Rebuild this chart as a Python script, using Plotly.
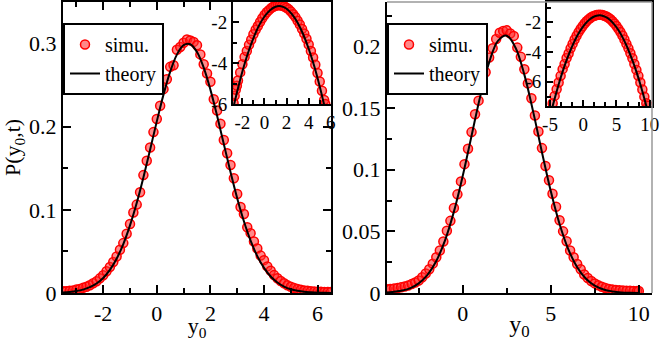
import plotly.graph_objects as go

# ---- left panel: main distribution ----
left_theory_x = [-3.5, -3.25, -3.0, -2.75, -2.5, -2.25, -2.0, -1.75, -1.5, -1.25, -1.0, -0.75,
                 -0.5, -0.25, 0.0, 0.25, 0.5, 0.75, 1.0, 1.25, 1.5, 1.75, 2.0, 2.25, 2.5, 2.75,
                 3.0, 3.25, 3.5, 3.75, 4.0, 4.25, 4.5, 4.75, 5.0, 5.25, 5.5, 5.75, 6.0, 6.25, 6.5]
left_theory_y = [0.0007, 0.0013, 0.0023, 0.0041, 0.0070, 0.0114, 0.0181, 0.0278, 0.0412, 0.0589,
                 0.0813, 0.1082, 0.1390, 0.1724, 0.2064, 0.2386, 0.2662, 0.2867, 0.2981, 0.2992,
                 0.2898, 0.2710, 0.2446, 0.2131, 0.1793, 0.1455, 0.1140, 0.0863, 0.0630, 0.0444,
                 0.0302, 0.0198, 0.0126, 0.0077, 0.0045, 0.0026, 0.0014, 0.0008, 0.0004, 0.0002, 0.0001]

left_simu_x = [-3.5, -3.375, -3.25, -3.125, -3.0, -2.875, -2.75, -2.625, -2.5, -2.375, -2.25, -2.125,
               -2.0, -1.875, -1.75, -1.625, -1.5, -1.375, -1.25, -1.125, -1.0, -0.875, -0.75, -0.625,
               -0.5, -0.375, -0.25, -0.125, 0.0, 0.125, 0.25, 0.375, 0.5, 0.625, 0.75, 0.875,
               1.0, 1.125, 1.25, 1.375, 1.5, 1.625, 1.75, 1.875, 2.0, 2.125, 2.25, 2.375,
               2.5, 2.625, 2.75, 2.875, 3.0, 3.125, 3.25, 3.375, 3.5, 3.625, 3.75, 3.875,
               4.0, 4.125, 4.25, 4.375, 4.5, 4.625, 4.75, 4.875, 5.0, 5.125, 5.25, 5.375,
               5.5, 5.625, 5.75, 5.875, 6.0, 6.125, 6.25, 6.375, 6.5]
left_simu_y = [0.0020, 0.0022, 0.0028, 0.0030, 0.0041, 0.0048, 0.0062, 0.0075, 0.0093, 0.0118, 0.0140, 0.0176,
               0.0213, 0.0262, 0.0312, 0.0372, 0.0440, 0.0521, 0.0600, 0.0712, 0.0829, 0.0968, 0.1063, 0.1212,
               0.1418, 0.1590, 0.1750, 0.1935, 0.2092, 0.2253, 0.2452, 0.2570, 0.2720, 0.2740, 0.2925, 0.2958,
               0.3010, 0.3050, 0.3038, 0.3020, 0.2980, 0.2870, 0.2752, 0.2640, 0.2540, 0.2330, 0.2195, 0.2035,
               0.1840, 0.1680, 0.1540, 0.1380, 0.1190, 0.1035, 0.0950, 0.0790, 0.0720, 0.0620, 0.0535, 0.0450,
               0.0395, 0.0320, 0.0268, 0.0215, 0.0178, 0.0145, 0.0118, 0.0092, 0.0075, 0.0060, 0.0047, 0.0040,
               0.0031, 0.0027, 0.0022, 0.0019, 0.0016, 0.0014, 0.0013, 0.0012, 0.0012]

# ---- left panel: inset (log) ----
left_in_theory_x = [-2.75, -2.5, -2.0, -1.5, -1.0, -0.5, 0.0, 0.5, 1.0, 1.5, 2.0, 2.5, 3.0, 3.5,
                    4.0, 4.5, 5.0, 5.4]
left_in_theory_y = [-6.02, -5.45, -4.41, -3.51, -2.77, -2.16, -1.71, -1.40, -1.23, -1.21, -1.33, -1.61,
                    -2.02, -2.58, -3.29, -4.14, -5.14, -6.04]
left_in_simu_x = [-2.8, -2.7, -2.6, -2.5, -2.4, -2.2, -2.0, -1.8, -1.6, -1.4, -1.2, -1.0, -0.8, -0.6,
                  -0.4, -0.2, 0.0, 0.2, 0.4, 0.6, 0.8, 1.0, 1.2, 1.4, 1.6, 1.8, 2.0, 2.2, 2.4, 2.6,
                  2.8, 3.0, 3.2, 3.4, 3.6, 3.8, 4.0, 4.2, 4.4, 4.6, 4.8, 5.0, 5.2, 5.4, 5.5]
left_in_simu_y = [-5.95, -5.60, -5.30, -5.10, -4.85, -4.45, -4.05, -3.70, -3.40, -3.10, -2.85, -2.58,
                  -2.36, -2.18, -1.98, -1.80, -1.64, -1.50, -1.40, -1.30, -1.23, -1.18, -1.16, -1.16,
                  -1.18, -1.22, -1.28, -1.36, -1.47, -1.60, -1.74, -1.92, -2.10, -2.32, -2.55, -2.80,
                  -3.08, -3.40, -3.72, -4.08, -4.48, -4.90, -5.35, -5.80, -6.00]

# ---- right panel: main distribution ----
right_theory_x = [-4.5, -4.0, -3.5, -3.0, -2.5, -2.0, -1.5, -1.0, -0.5, 0.0, 0.5, 1.0, 1.5, 2.0,
                  2.5, 3.0, 3.5, 4.0, 4.5, 5.0, 5.5, 6.0, 6.5, 7.0, 7.5, 8.0, 8.5, 9.0, 9.5, 10.0]
right_theory_y = [0.0003, 0.0008, 0.0018, 0.0038, 0.0078, 0.0147, 0.0260, 0.0429, 0.0660, 0.0949,
                  0.1274, 0.1598, 0.1870, 0.2045, 0.2087, 0.1989, 0.1771, 0.1471, 0.1142, 0.0827,
                  0.0560, 0.0354, 0.0209, 0.0115, 0.0059, 0.0028, 0.0013, 0.0005, 0.0002, 0.0001]

right_simu_x = [-4.3, -4.1, -3.9, -3.7, -3.5, -3.3, -3.1, -2.9, -2.7, -2.5, -2.3, -2.1, -1.9, -1.7,
                -1.5, -1.3, -1.1, -0.9, -0.7, -0.5, -0.3, -0.1, 0.1, 0.3, 0.5, 0.7, 0.9, 1.1,
                1.3, 1.5, 1.7, 1.9, 2.1, 2.3, 2.5, 2.7, 2.9, 3.1, 3.3, 3.5, 3.7, 3.9, 4.1, 4.3,
                4.5, 4.7, 4.9, 5.1, 5.3, 5.5, 5.7, 5.9, 6.1, 6.3, 6.5, 6.7, 6.9, 7.1, 7.3, 7.5,
                7.7, 7.9, 8.1, 8.3, 8.5, 8.7, 8.9, 9.1, 9.3, 9.5, 9.7, 9.9, 10.0]
right_simu_y = [0.0030, 0.0032, 0.0036, 0.0040, 0.0046, 0.0052, 0.0060, 0.0072, 0.0085, 0.0102, 0.0128, 0.0158,
                0.0192, 0.0238, 0.0290, 0.0345, 0.0418, 0.0505, 0.0585, 0.0690, 0.0800, 0.0905, 0.1045, 0.1170,
                0.1305, 0.1450, 0.1560, 0.1700, 0.1790, 0.1910, 0.1985, 0.2060, 0.2110, 0.2125, 0.2130, 0.2105,
                0.2085, 0.1990, 0.1915, 0.1815, 0.1700, 0.1580, 0.1440, 0.1310, 0.1175, 0.1030, 0.0915, 0.0805,
                0.0700, 0.0590, 0.0500, 0.0420, 0.0345, 0.0290, 0.0235, 0.0192, 0.0150, 0.0122, 0.0098, 0.0078,
                0.0062, 0.0050, 0.0040, 0.0033, 0.0028, 0.0025, 0.0022, 0.0020, 0.0018, 0.0018, 0.0017, 0.0016,
                0.0016]

# ---- right panel: inset (log) ----
right_in_theory_x = [-4.6, -4.5, -4.0, -3.5, -3.0, -2.5, -2.0, -1.5, -1.0, -0.5, 0.0, 0.5, 1.0, 1.5,
                     2.0, 2.5, 3.0, 3.5, 4.0, 4.5, 5.0, 5.5, 6.0, 6.5, 7.0, 7.5, 8.0, 8.5, 9.0, 9.5]
right_in_theory_y = [-7.64, -7.47, -6.65, -5.88, -5.18, -4.54, -3.97, -3.45, -2.99, -2.60, -2.27, -2.00,
                     -1.79, -1.64, -1.555, -1.53, -1.57, -1.67, -1.83, -2.05, -2.33, -2.67, -3.08, -3.55,
                     -4.08, -4.67, -5.32, -6.03, -6.81, -7.64]
right_in_simu_x = [-4.6, -4.3, -4.0, -3.7, -3.4, -3.1, -2.8, -2.5, -2.2, -1.9, -1.6, -1.3, -1.0, -0.7,
                   -0.4, -0.1, 0.2, 0.5, 0.8, 1.1, 1.4, 1.7, 2.0, 2.3, 2.6, 2.9, 3.2, 3.5, 3.8, 4.1,
                   4.4, 4.7, 5.0, 5.3, 5.6, 5.9, 6.2, 6.5, 6.8, 7.1, 7.4, 7.7, 8.0, 8.3, 8.6, 8.9,
                   9.2, 9.5, 9.8]
right_in_simu_y = [-7.45, -6.95, -6.50, -6.05, -5.60, -5.15, -4.80, -4.40, -4.10, -3.75, -3.45, -3.15,
                   -2.90, -2.66, -2.45, -2.26, -2.08, -1.93, -1.80, -1.69, -1.60, -1.55, -1.51, -1.49,
                   -1.49, -1.51, -1.55, -1.61, -1.69, -1.79, -1.93, -2.07, -2.24, -2.44, -2.65, -2.89,
                   -3.15, -3.45, -3.75, -4.08, -4.42, -4.80, -5.20, -5.60, -6.05, -6.52, -7.00, -7.45,
                   -7.62]

FONT = "Liberation Serif"
W, H = 664, 341
RED_FILL = "rgba(255,40,40,0.55)"


def px_x(a, b):
    return [a / W, b / W]


def px_y(top, bottom):
    return [1 - bottom / H, 1 - top / H]


def simu(x, y, xa, ya, show, leg="legend"):
    return go.Scatter(x=x, y=y, xaxis=xa, yaxis=ya, mode="markers", name="simu.",
                      showlegend=show, legend=leg,
                      marker=dict(size=9, color=RED_FILL, line=dict(color="red", width=1.5)))


def theory(x, y, xa, ya, show, leg="legend"):
    return go.Scatter(x=x, y=y, xaxis=xa, yaxis=ya, mode="lines", name="theory",
                      showlegend=show, legend=leg, line=dict(color="black", width=2, shape="spline"))


fig = go.Figure()
fig.add_trace(simu(left_simu_x, left_simu_y, "x", "y", True))
fig.add_trace(theory(left_theory_x, left_theory_y, "x", "y", True))
fig.add_trace(simu(left_in_simu_x, left_in_simu_y, "x2", "y2", False))
fig.add_trace(theory(left_in_theory_x, left_in_theory_y, "x2", "y2", False))
fig.add_trace(simu(right_simu_x, right_simu_y, "x3", "y3", True, "legend2"))
fig.add_trace(theory(right_theory_x, right_theory_y, "x3", "y3", True, "legend2"))
fig.add_trace(simu(right_in_simu_x, right_in_simu_y, "x4", "y4", False))
fig.add_trace(theory(right_in_theory_x, right_in_theory_y, "x4", "y4", False))

main_tick = dict(ticks="inside", ticklen=8, tickwidth=2, tickcolor="black", showline=True,
                 linecolor="black", linewidth=2, showgrid=False, zeroline=False,
                 tickfont=dict(family=FONT, size=22, color="black"), automargin=False)
inset_tick = dict(ticks="inside", ticklen=6, tickwidth=2, tickcolor="black", showline=True,
                  linecolor="black", linewidth=2, showgrid=False, zeroline=False, mirror=True,
                  tickfont=dict(family=FONT, size=19, color="black"), automargin=False)
minor_main = dict(ticks="inside", ticklen=5, tickwidth=2, tickcolor="black")
minor_in = dict(ticks="inside", ticklen=4, tickwidth=2, tickcolor="black")

legend_style = dict(xanchor="left", yanchor="top", bgcolor="white", bordercolor="black",
                    borderwidth=2, itemwidth=30, tracegroupgap=0,
                    font=dict(family=FONT, size=20))

fig.update_layout(
    width=W, height=H, margin=dict(l=0, r=0, t=0, b=0),
    plot_bgcolor="white", paper_bgcolor="white",
    font=dict(family=FONT, size=22, color="black"),
    xaxis=dict(main_tick, domain=px_x(63, 331), range=[-3.5, 6.5], anchor="y", mirror="ticks",
               tickmode="array", tickvals=[-2, 0, 2, 4, 6], ticktext=["-2", "0", "2", "4", "6"],
               minor=dict(minor_main, dtick=1, tick0=0),
               title=dict(text="y<sub>0</sub>", font=dict(family=FONT, size=22), standoff=0)),
    yaxis=dict(main_tick, domain=px_y(2, 293), range=[0, 0.35], anchor="x", mirror="ticks",
               dtick=0.1, tick0=0, minor=dict(minor_main, dtick=0.05, tick0=0),
               title=dict(text="P(y<sub>0</sub>,t)", font=dict(family=FONT, size=22), standoff=6)),
    xaxis2=dict(inset_tick, domain=px_x(233, 331), range=[-2.85, 6.02], anchor="y2",
                tickmode="array", tickvals=[-2, 0, 2, 4, 6], ticktext=["-2", "0", "2", "4", "6"],
                minor=dict(minor_in, dtick=1, tick0=0)),
    yaxis2=dict(inset_tick, domain=px_y(2, 104), range=[-6, -1], anchor="x2",
                tickmode="array", tickvals=[-6, -4, -2], ticktext=["-6", "-4", "-2"],
                minor=dict(minor_in, dtick=1, tick0=0)),
    xaxis3=dict(main_tick, domain=px_x(387, 652), range=[-4.3, 10.75], anchor="y3",
                tickmode="array", tickvals=[0, 5, 10], ticktext=["0", "5", "10"],
                minor=dict(minor_main, dtick=2.5, tick0=0),
                title=dict(text="y<sub>0</sub>", font=dict(family=FONT, size=24), standoff=0)),
    yaxis3=dict(main_tick, domain=px_y(2, 293), range=[0, 0.236], anchor="x3",
                dtick=0.05, tick0=0, minor=dict(minor_main, dtick=0.025, tick0=0)),
    xaxis4=dict(inset_tick, domain=px_x(547, 652), range=[-5.45, 10.35], anchor="y4",
                tickmode="array", tickvals=[-5, 0, 5, 10], ticktext=["-5", "0", "5", "10"],
                minor=dict(minor_in, dtick=5 / 3, tick0=0)),
    yaxis4=dict(inset_tick, domain=px_y(2, 106), range=[-7.63, -0.63], anchor="x4",
                tickmode="array", tickvals=[-6, -4, -2], ticktext=["-6", "-4", "-2"],
                minor=dict(minor_in, dtick=1, tick0=0)),
    legend=dict(legend_style, x=63 / W, y=1 - 23 / H),
    legend2=dict(legend_style, x=387 / W, y=1 - 23 / H),
    shapes=[
        dict(type="line", xref="paper", yref="paper", x0=387 / W, x1=652 / W, y0=1 - 2 / H, y1=1 - 2 / H,
             line=dict(color="#999999", width=1.5)),
        dict(type="line", xref="paper", yref="paper", x0=652 / W, x1=652 / W, y0=1 - 293 / H, y1=1 - 2 / H,
             line=dict(color="#999999", width=1.5)),
    ],
)

fig.write_html("out.html", config={"displayModeBar": False},
               post_script="document.body.style.margin='0';")
